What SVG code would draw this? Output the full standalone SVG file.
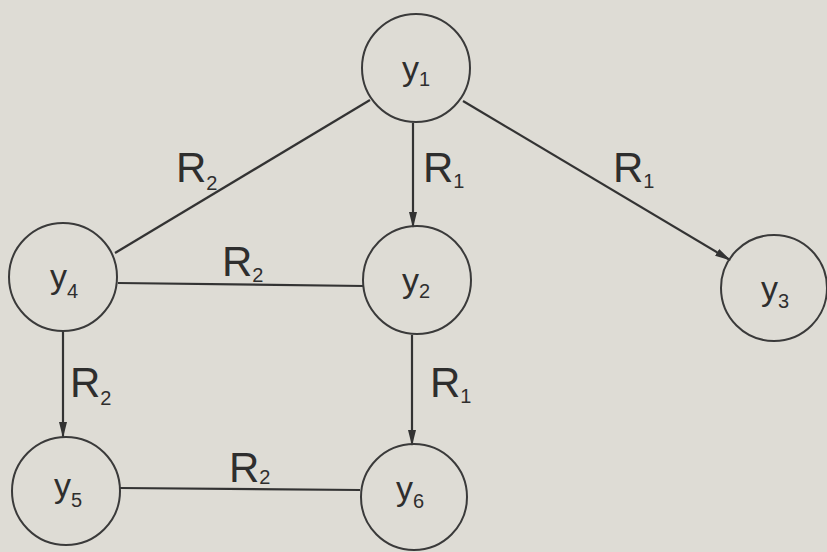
<svg xmlns="http://www.w3.org/2000/svg" width="827" height="552" viewBox="0 0 827 552">
<defs>
<style>
.node circle{fill:none;stroke:#3a3a3a;stroke-width:2}
.edge{stroke:#333;stroke-width:2.2;fill:none}
.lbl{font-family:"Liberation Sans",Arial,sans-serif;font-size:42px;fill:#2e2e2e}
.nl{font-family:"Liberation Sans",Arial,sans-serif;font-size:34px;fill:#2e2e2e}
.sub{font-size:20px}
</style>
<marker id="arr" viewBox="0 0 16 10" refX="15" refY="5" markerWidth="16" markerHeight="10" markerUnits="userSpaceOnUse" orient="auto">
<path d="M0,1 L16,5 L0,9 Z" fill="#333"/>
</marker>
</defs>
<rect x="0" y="0" width="827" height="552" fill="#dedcd5"/>
<g id="connectors">
<line class="edge" x1="370" y1="100" x2="115" y2="253"/>
<line class="edge" x1="118" y1="283" x2="364" y2="286"/>
<line class="edge" x1="413" y1="123" x2="413" y2="227" marker-end="url(#arr)"/>
<line class="edge" x1="463" y1="101" x2="730" y2="260" marker-end="url(#arr)"/>
<line class="edge" x1="63" y1="332" x2="63" y2="437" marker-end="url(#arr)"/>
<line class="edge" x1="412" y1="335" x2="412" y2="445" marker-end="url(#arr)"/>
<line class="edge" x1="120" y1="488" x2="360" y2="490"/>
<text class="lbl" x="176" y="182">R<tspan class="sub" font-size="24" dy="8">2</tspan></text>
<text class="lbl" x="222" y="276">R<tspan class="sub" font-size="24" dy="6">2</tspan></text>
<text class="lbl" x="423" y="182">R<tspan class="sub" font-size="24" dy="6">1</tspan></text>
<text class="lbl" x="613" y="182">R<tspan class="sub" font-size="24" dy="6">1</tspan></text>
<text class="lbl" x="70" y="397">R<tspan class="sub" font-size="24" dy="8">2</tspan></text>
<text class="lbl" x="430" y="397">R<tspan class="sub" font-size="24" dy="6">1</tspan></text>
<text class="lbl" x="229" y="482">R<tspan class="sub" font-size="24" dy="2">2</tspan></text>
</g>
<g id="y1" class="node"><circle cx="416" cy="68" r="54"/><text class="nl" x="402" y="80">y<tspan class="sub" dy="6">1</tspan></text></g>
<g id="y2" class="node"><circle cx="417" cy="280" r="54"/><text class="nl" x="402" y="292">y<tspan class="sub" dy="6">2</tspan></text></g>
<g id="y3" class="node"><circle cx="774" cy="288" r="53"/><text class="nl" x="761" y="300">y<tspan class="sub" dy="8">3</tspan></text></g>
<g id="y4" class="node"><circle cx="63" cy="277" r="54"/><text class="nl" x="50" y="288">y<tspan class="sub" dy="10">4</tspan></text></g>
<g id="y5" class="node"><circle cx="66" cy="491" r="54"/><text class="nl" x="54" y="497">y<tspan class="sub" dy="10">5</tspan></text></g>
<g id="y6" class="node"><circle cx="414" cy="497" r="53"/><text class="nl" x="396" y="500">y<tspan class="sub" dy="8">6</tspan></text></g>
</svg>
